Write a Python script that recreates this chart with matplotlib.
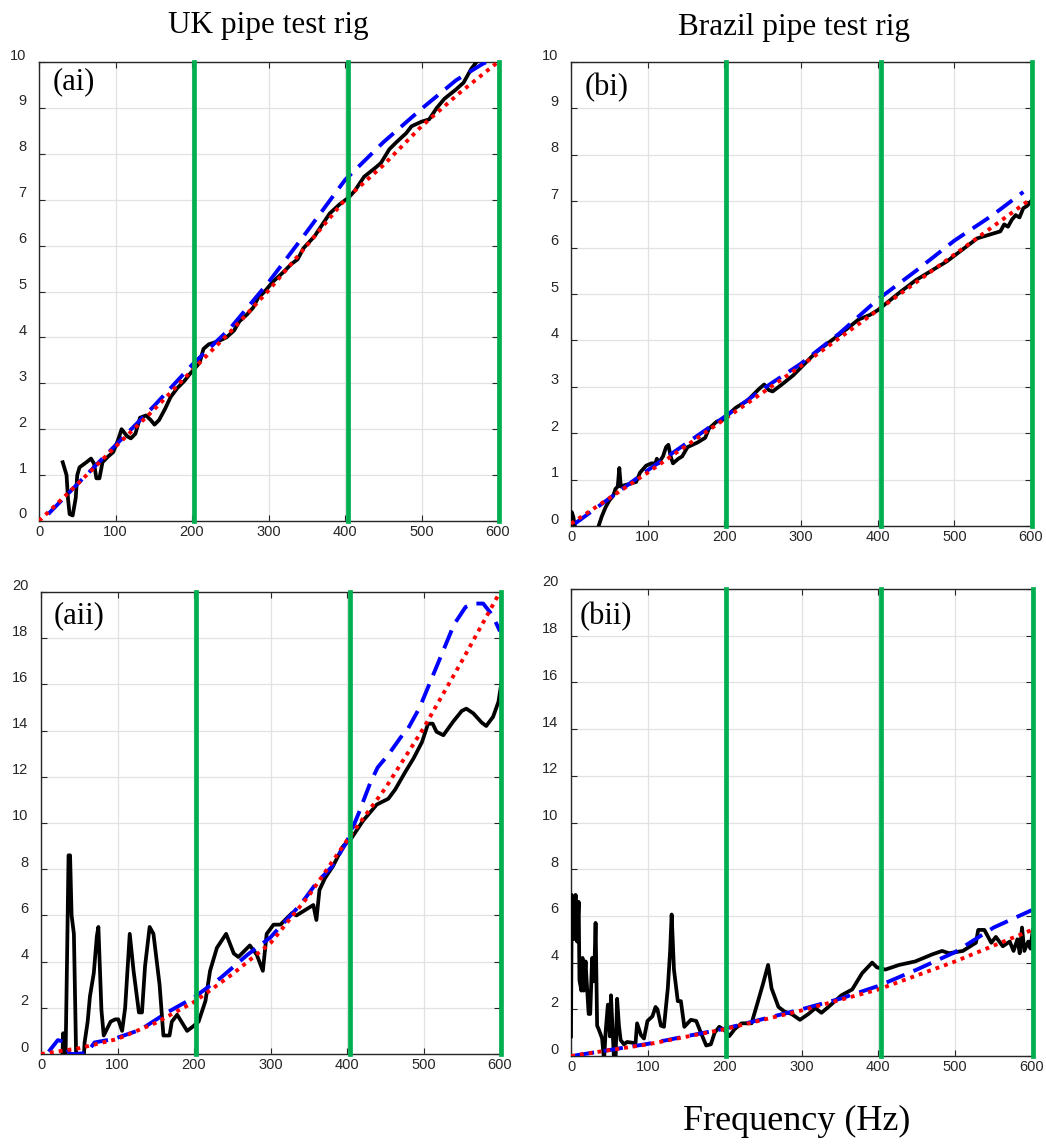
import matplotlib
matplotlib.use("Agg")
import matplotlib.pyplot as plt
from matplotlib.transforms import ScaledTranslation

# ---------------- data ----------------
freq_ticks = [0, 100, 200, 300, 400, 500, 600]
yticks_top = list(range(0, 11, 1))
yticks_bottom = list(range(0, 21, 2))
band_edges = [202, 404, 601]

# (ai) UK pipe, top
ai_red_x = [0, 50, 100, 150, 200, 250, 300, 350, 400, 450, 500, 550, 600]
ai_red_y = [0, 0.8, 1.62, 2.42, 3.28, 4.12, 5.02, 6.0, 7.0, 7.75, 8.6, 9.33, 10.0]
ai_blue_x = [12, 50, 100, 150, 200, 250, 300, 350, 400, 450, 500, 545, 580, 592]
ai_blue_y = [0.15, 0.8, 1.65, 2.5, 3.4, 4.2, 5.2, 6.3, 7.43, 8.25, 8.98, 9.6, 9.96, 10.05]
ai_black = [(31, 1.28), (36, 1.0), (38, 0.47), (40, 0.15), (44, 0.12), (48, 0.5), (50, 1.0),
            (53, 1.17), (62, 1.28), (68, 1.36), (72, 1.25), (75, 0.93), (79, 0.93), (83, 1.28),
            (90, 1.4), (97, 1.5), (103, 1.75), (108, 2.0), (115, 1.85), (120, 1.8), (126, 1.9),
            (132, 2.25), (140, 2.3), (146, 2.2), (151, 2.1), (157, 2.2), (165, 2.45), (172, 2.7),
            (181, 2.9), (190, 3.05), (197, 3.2), (205, 3.35), (210, 3.45), (215, 3.75), (222, 3.85),
            (235, 3.92), (245, 4.0), (255, 4.15), (262, 4.35), (272, 4.5), (280, 4.65), (286, 4.85),
            (295, 5.0), (305, 5.2), (318, 5.4), (330, 5.6), (338, 5.7), (346, 5.95), (360, 6.2),
            (370, 6.45), (380, 6.7), (393, 6.9), (405, 7.05), (413, 7.2), (425, 7.5), (440, 7.7),
            (447, 7.8), (458, 8.1), (467, 8.25), (480, 8.45), (487, 8.6), (500, 8.7), (510, 8.75),
            (520, 9.0), (530, 9.2), (545, 9.4), (555, 9.55), (565, 9.85), (572, 10.0), (580, 10.1)]

# (bi) Brazil pipe, top
bi_red_x = [0, 100, 200, 300, 400, 500, 600]
bi_red_y = [0.05, 1.15, 2.3, 3.45, 4.65, 5.85, 7.05]
bi_blue_x = [5, 100, 200, 250, 300, 350, 400, 450, 500, 550, 590]
bi_blue_y = [0.05, 1.2, 2.35, 2.95, 3.5, 4.15, 4.88, 5.5, 6.15, 6.7, 7.2]
bi_black = [(0, 0.0), (1, 0.3), (3, 0.2), (5, 0.0), (7, -0.3), (34, -0.3), (36, 0.0), (40, 0.2),
            (45, 0.4), (50, 0.55), (55, 0.65), (58, 0.8), (61, 0.85), (63, 1.25), (65, 0.85),
            (70, 0.88), (75, 0.9), (85, 0.95), (90, 1.15), (98, 1.3), (105, 1.35), (110, 1.35),
            (112, 1.45), (114, 1.35), (120, 1.5), (124, 1.7), (127, 1.75), (130, 1.5), (133, 1.35),
            (140, 1.45), (145, 1.5), (152, 1.7), (165, 1.8), (175, 1.9), (180, 2.1), (190, 2.25),
            (200, 2.3), (205, 2.4), (215, 2.55), (230, 2.7), (245, 2.95), (252, 3.05), (258, 2.93),
            (263, 2.9), (275, 3.05), (290, 3.25), (305, 3.5), (320, 3.75), (340, 4.0), (360, 4.25),
            (375, 4.45), (390, 4.55), (400, 4.65), (415, 4.85), (430, 5.05), (450, 5.3), (470, 5.5),
            (490, 5.7), (510, 5.95), (530, 6.2), (550, 6.3), (560, 6.35), (565, 6.5), (570, 6.45),
            (575, 6.6), (580, 6.7), (585, 6.65), (590, 6.85), (595, 6.9), (600, 7.0)]

# (aii) UK pipe, bottom
aii_red_x = [0, 50, 100, 150, 200, 250, 300, 350, 400, 450, 500, 550, 600]
aii_red_y = [0, 0.25, 0.65, 1.35, 2.25, 3.45, 4.8, 6.85, 9.25, 11.5, 14.1, 17.0, 20.0]
aii_blue_x = [10, 22, 28, 38, 45, 60, 70, 95, 130, 165, 200, 235, 270, 300, 340, 360, 380,
              400, 415, 430, 440, 455, 470, 480, 495, 510, 525, 540, 555, 565, 578, 590, 600]
aii_blue_y = [0.1, 0.6, 0.55, 0.0, 0.0, 0.05, 0.5, 0.65, 1.05, 1.8, 2.45, 3.3, 4.3, 5.05, 6.5,
              7.4, 8.1, 9.2, 10.4, 11.7, 12.4, 13.0, 13.7, 14.1, 15.0, 16.2, 17.4, 18.6, 19.35,
              19.5, 19.5, 19.0, 18.3]
aii_black = [(28, 0.0), (29, 0.9), (30, -0.3), (32, -0.3), (34, 4.0), (36, 8.6), (38, 8.6),
             (40, 6.0), (43, 5.2), (46, -0.2), (52, -0.2), (56, -0.1), (57, 0.5), (61, 1.4),
             (64, 2.5), (69, 3.5), (73, 5.1), (75, 5.5), (79, 1.9), (82, 0.8), (91, 1.4), (97, 1.5),
             (101, 1.5), (106, 1.0), (110, 2.0), (116, 5.2), (121, 3.6), (128, 1.8), (132, 1.8),
             (136, 3.8), (142, 5.5), (147, 5.2), (155, 3.0), (160, 0.8), (168, 0.8), (171, 1.4),
             (178, 1.7), (191, 1.0), (199, 1.2), (206, 1.4), (215, 2.3), (221, 3.6), (230, 4.6),
             (236, 4.9), (242, 5.2), (252, 4.35), (258, 4.2), (273, 4.7), (282, 4.3), (290, 3.6),
             (295, 5.2), (304, 5.6), (313, 5.6), (328, 6.1), (334, 6.0), (356, 6.45), (360, 5.8),
             (364, 7.1), (371, 7.6), (382, 8.15), (395, 9.0), (406, 9.35), (421, 10.1), (439, 10.8),
             (454, 11.05), (463, 11.45), (476, 12.2), (487, 12.8), (498, 13.5), (506, 14.3),
             (512, 14.3), (517, 13.95), (526, 13.8), (539, 14.4), (550, 14.85), (556, 14.95),
             (565, 14.75), (576, 14.35), (582, 14.2), (591, 14.6), (598, 15.25), (602, 16.1)]

# (bii) Brazil pipe, bottom
bii_red_x = [0, 100, 200, 300, 400, 500, 600]
bii_red_y = [0, 0.5, 1.15, 1.95, 2.85, 4.05, 5.4]
bii_blue_x = [5, 100, 200, 300, 350, 400, 450, 500, 550, 600]
bii_blue_y = [0.02, 0.52, 1.17, 2.0, 2.45, 3.0, 3.7, 4.45, 5.5, 6.25]
bii_black = [(0, 0.84), (1, 6.9), (3.5, 5.0), (6, 6.9), (8, 4.9), (10, 6.6), (11, 3.25),
             (13.5, 2.8), (15, 4.2), (16.5, 2.8), (19, 4.05), (20, 3.4), (23, 1.8), (25, 1.8),
             (27.5, 4.2), (30, 3.2), (32, 5.7), (34, 1.3), (36, 1.15), (40.5, 0.75), (43, -0.2),
             (45, 1.0), (48, 2.2), (50.6, 0.84), (52, 2.6), (56, -0.2), (58, -0.2), (60, 2.45),
             (62.4, 1.3), (64.6, 0.68), (69, 0.5), (73, 0.6), (84, 0.55), (86, 1.4), (91, 0.9),
             (95, 0.75), (99.5, 1.5), (106, 1.7), (110, 2.1), (112.5, 2.0), (117, 1.3), (121, 1.25),
             (126, 2.9), (129, 4.5), (131, 6.06), (134, 3.7), (139, 2.35), (143, 2.35),
             (147.5, 1.25), (156, 1.55), (163, 1.5), (169, 1.0), (176, 0.45), (182, 0.5),
             (187, 1.0), (193, 1.25), (200, 1.1), (206, 0.85), (213, 1.15), (222, 1.4), (235, 1.4),
             (243, 2.3), (250, 3.1), (256.5, 3.9), (261, 2.9), (270, 2.1), (278, 1.9), (287, 1.8),
             (298, 1.55), (309, 1.8), (318, 2.05), (326, 1.85), (335, 2.1), (352, 2.6),
             (366, 2.85), (379, 3.55), (392, 4.0), (398, 3.8), (409, 3.7), (427, 3.9),
             (448, 4.05), (470, 4.35), (483, 4.5), (492, 4.4), (510, 4.5), (527, 4.85), (530, 5.4),
             (538, 5.4), (547, 4.85), (553, 5.1), (562, 4.7), (571, 4.9), (576, 4.5), (581, 5.0),
             (584, 4.4), (587, 5.5), (590, 4.5), (595, 4.9), (598, 4.6), (601, 5.4)]

# ---------------- figure ----------------
W, H = 1046, 1144
fig = plt.figure(figsize=(W / 100, H / 100), dpi=100)

SERIF = "Liberation Serif"
SANS = "Liberation Sans"
GREEN = "#00b050"
AXCOL = "#262626"


def add_ax(l, t, r, b):
    return fig.add_axes([l / W, 1 - b / H, (r - l) / W, (b - t) / H])


def style(ax, yt, label, lpos):
    ax.set_xlim(0, 600)
    ax.set_ylim(yt[0], yt[-1])
    ax.set_xticks(freq_ticks)
    ax.set_yticks(yt)
    ax.grid(True, color="#e2e2e2", lw=0.9)
    ax.set_axisbelow(True)
    ax.tick_params(direction="in", length=4, width=0.8, top=True, right=True,
                   colors=AXCOL, labelsize=10.5)
    ax.tick_params(axis="y", pad=9)
    ax.tick_params(axis="x", pad=3)
    for s in ax.spines.values():
        s.set_color(AXCOL)
        s.set_linewidth(1.0)
    for lab in ax.get_xticklabels() + ax.get_yticklabels():
        lab.set_fontfamily(SANS)
    off = ScaledTranslation(0, 8 / 100, fig.dpi_scale_trans)
    for lab in ax.get_yticklabels():
        lab.set_transform(lab.get_transform() + off)
    for xe in band_edges:
        ax.axvline(xe, color=GREEN, lw=3.4, zorder=6, clip_on=False)
    ax.text(lpos[0], lpos[1], label, transform=ax.transAxes, fontsize=22,
            family=SERIF, ha="left", va="center", zorder=7)


def draw(ax, black, bx, by, rx, ry):
    kx = [p[0] for p in black]
    ky = [p[1] for p in black]
    ax.plot(kx, ky, color="black", lw=2.7, zorder=3, solid_joinstyle="round")
    ax.plot(bx, by, color="#0000ff", lw=2.8, dashes=(5, 2.5), zorder=4)
    ax.plot(rx, ry, color="#ff0000", lw=2.8, dashes=(1, 1.3), zorder=5)


ax_ai = add_ax(39, 62, 498, 521)
ax_bi = add_ax(571, 62, 1031, 526)
ax_aii = add_ax(41, 592, 500, 1054)
ax_bii = add_ax(571, 589, 1032, 1056)

draw(ax_ai, ai_black, ai_blue_x, ai_blue_y, ai_red_x, ai_red_y)
draw(ax_bi, bi_black, bi_blue_x, bi_blue_y, bi_red_x, bi_red_y)
draw(ax_aii, aii_black, aii_blue_x, aii_blue_y, aii_red_x, aii_red_y)
draw(ax_bii, bii_black, bii_blue_x, bii_blue_y, bii_red_x, bii_red_y)

style(ax_ai, yticks_top, "(ai)", (0.030, 0.958))
style(ax_bi, yticks_top, "(bi)", (0.029, 0.944))
style(ax_aii, yticks_bottom, "(aii)", (0.028, 0.948))
style(ax_bii, yticks_bottom, "(bii)", (0.019, 0.942))

fig.text(268 / W, 1 - 25 / H, "UK pipe test rig", ha="center", va="center",
         fontsize=22.5, family=SERIF)
fig.text(794 / W, 1 - 28 / H, "Brazil pipe test rig", ha="center", va="center",
         fontsize=22.5, family=SERIF)
fig.text(797 / W, 1 - 1121 / H, "Frequency (Hz)", ha="center", va="center",
         fontsize=26, family=SERIF)

fig.savefig("out.png", dpi=100, facecolor="white")
